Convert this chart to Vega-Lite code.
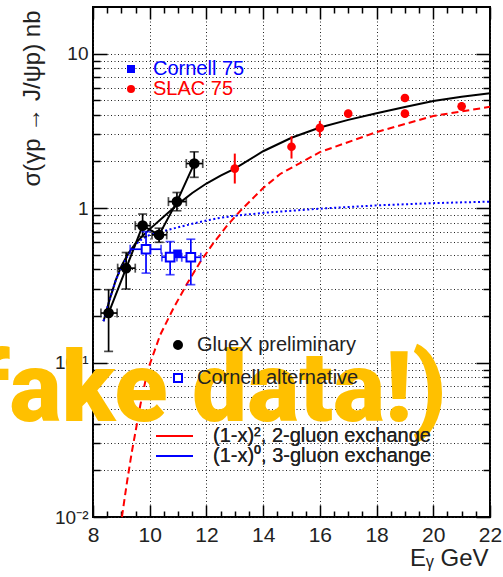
{
  "$schema": "https://vega.github.io/schema/vega-lite/v6.json",
  "width": 397,
  "height": 510,
  "autosize": {"type": "none"},
  "padding": {"left": 93, "top": 7, "right": 13, "bottom": 60},
  "background": "#ffffff",
  "config": {
    "view": {"stroke": "#000000", "strokeWidth": 2},
    "font": "Liberation Sans",
    "axis": {
      "tickColor": "#000000", "tickWidth": 1.5,
      "gridColor": "#222222", "gridDash": [1, 2.5], "gridWidth": 1,
      "labelFont": "Liberation Sans", "titleFont": "Liberation Sans",
      "labelColor": "#222222", "titleColor": "#222222", "titleFontWeight": "normal"
    },
    "legend": {"labelFont": "Liberation Sans", "labelFontSize": 20, "labelColor": "#222222", "labelLimit": 0, "padding": 0}
  },
  "datasets": {
    "fit": [
      {"E": 8.37, "sigma": 0.185}, {"E": 8.6, "sigma": 0.26}, {"E": 8.8, "sigma": 0.34},
      {"E": 9.0, "sigma": 0.42}, {"E": 9.25, "sigma": 0.51}, {"E": 9.5, "sigma": 0.59},
      {"E": 9.75, "sigma": 0.66}, {"E": 10.0, "sigma": 0.73}, {"E": 10.5, "sigma": 0.88},
      {"E": 11.0, "sigma": 1.06}, {"E": 11.5, "sigma": 1.25}, {"E": 12.0, "sigma": 1.44},
      {"E": 12.5, "sigma": 1.62}, {"E": 13.0, "sigma": 1.8}, {"E": 14.0, "sigma": 2.33},
      {"E": 15.0, "sigma": 2.85}, {"E": 16.0, "sigma": 3.32}, {"E": 17.0, "sigma": 3.72},
      {"E": 18.0, "sigma": 4.1}, {"E": 19.0, "sigma": 4.5}, {"E": 20.0, "sigma": 4.92},
      {"E": 21.0, "sigma": 5.25}, {"E": 22.0, "sigma": 5.54}
    ],
    "models": [
      {"model": "(1-x)², 2-gluon exchange", "E": 9.02, "sigma": 0.01},
      {"model": "(1-x)², 2-gluon exchange", "E": 9.2, "sigma": 0.0169},
      {"model": "(1-x)², 2-gluon exchange", "E": 9.37, "sigma": 0.0264},
      {"model": "(1-x)², 2-gluon exchange", "E": 9.67, "sigma": 0.0531},
      {"model": "(1-x)², 2-gluon exchange", "E": 9.93, "sigma": 0.0894},
      {"model": "(1-x)², 2-gluon exchange", "E": 10.37, "sigma": 0.151},
      {"model": "(1-x)², 2-gluon exchange", "E": 10.84, "sigma": 0.225},
      {"model": "(1-x)², 2-gluon exchange", "E": 11.31, "sigma": 0.322},
      {"model": "(1-x)², 2-gluon exchange", "E": 11.78, "sigma": 0.447},
      {"model": "(1-x)², 2-gluon exchange", "E": 12.25, "sigma": 0.594},
      {"model": "(1-x)², 2-gluon exchange", "E": 12.72, "sigma": 0.765},
      {"model": "(1-x)², 2-gluon exchange", "E": 13.19, "sigma": 0.956},
      {"model": "(1-x)², 2-gluon exchange", "E": 14.0, "sigma": 1.347},
      {"model": "(1-x)², 2-gluon exchange", "E": 14.6, "sigma": 1.66},
      {"model": "(1-x)², 2-gluon exchange", "E": 16.0, "sigma": 2.3},
      {"model": "(1-x)², 2-gluon exchange", "E": 18.0, "sigma": 3.1},
      {"model": "(1-x)², 2-gluon exchange", "E": 20.0, "sigma": 3.94},
      {"model": "(1-x)², 2-gluon exchange", "E": 22.0, "sigma": 4.52},
      {"model": "(1-x)⁰, 3-gluon exchange", "E": 8.37, "sigma": 0.185},
      {"model": "(1-x)⁰, 3-gluon exchange", "E": 8.6, "sigma": 0.26},
      {"model": "(1-x)⁰, 3-gluon exchange", "E": 8.8, "sigma": 0.34},
      {"model": "(1-x)⁰, 3-gluon exchange", "E": 9.0, "sigma": 0.41},
      {"model": "(1-x)⁰, 3-gluon exchange", "E": 9.25, "sigma": 0.5},
      {"model": "(1-x)⁰, 3-gluon exchange", "E": 9.5, "sigma": 0.58},
      {"model": "(1-x)⁰, 3-gluon exchange", "E": 9.75, "sigma": 0.635},
      {"model": "(1-x)⁰, 3-gluon exchange", "E": 10.0, "sigma": 0.67},
      {"model": "(1-x)⁰, 3-gluon exchange", "E": 10.5, "sigma": 0.71},
      {"model": "(1-x)⁰, 3-gluon exchange", "E": 11.0, "sigma": 0.75},
      {"model": "(1-x)⁰, 3-gluon exchange", "E": 11.5, "sigma": 0.79},
      {"model": "(1-x)⁰, 3-gluon exchange", "E": 12.0, "sigma": 0.83},
      {"model": "(1-x)⁰, 3-gluon exchange", "E": 12.5, "sigma": 0.865},
      {"model": "(1-x)⁰, 3-gluon exchange", "E": 13.0, "sigma": 0.89},
      {"model": "(1-x)⁰, 3-gluon exchange", "E": 14.0, "sigma": 0.93},
      {"model": "(1-x)⁰, 3-gluon exchange", "E": 15.0, "sigma": 0.96},
      {"model": "(1-x)⁰, 3-gluon exchange", "E": 16.0, "sigma": 0.99},
      {"model": "(1-x)⁰, 3-gluon exchange", "E": 18.0, "sigma": 1.04},
      {"model": "(1-x)⁰, 3-gluon exchange", "E": 20.0, "sigma": 1.075},
      {"model": "(1-x)⁰, 3-gluon exchange", "E": 22.0, "sigma": 1.1}
    ],
    "measured": [
      {"set": "GlueX preliminary", "E": 8.55, "sigma": 0.209, "Elo": 8.28, "Ehi": 8.85, "slo": 0.118, "shi": 0.296},
      {"set": "GlueX preliminary", "E": 9.17, "sigma": 0.408, "Elo": 8.87, "Ehi": 9.49, "slo": 0.299, "shi": 0.515},
      {"set": "GlueX preliminary", "E": 9.75, "sigma": 0.769, "Elo": 9.49, "Ehi": 10.02, "slo": 0.653, "shi": 0.914},
      {"set": "GlueX preliminary", "E": 10.33, "sigma": 0.67, "Elo": 10.08, "Ehi": 10.6, "slo": 0.6, "shi": 0.74},
      {"set": "GlueX preliminary", "E": 10.96, "sigma": 1.1, "Elo": 10.66, "Ehi": 11.29, "slo": 0.96, "shi": 1.26},
      {"set": "GlueX preliminary", "E": 11.57, "sigma": 1.94, "Elo": 11.29, "Ehi": 11.87, "slo": 1.58, "shi": 2.31},
      {"set": "Cornell alternative", "E": 9.87, "sigma": 0.541, "Elo": 9.31, "Ehi": 10.4, "slo": 0.379, "shi": 0.703},
      {"set": "Cornell alternative", "E": 10.72, "sigma": 0.481, "Elo": 10.43, "Ehi": 10.96, "slo": 0.37, "shi": 0.606},
      {"set": "Cornell alternative", "E": 11.45, "sigma": 0.48, "Elo": 11.13, "Ehi": 11.8, "slo": 0.319, "shi": 0.628}
    ],
    "published": [
      {"set": "Cornell 75", "E": 10.98, "sigma": 0.505, "slo": null, "shi": null},
      {"set": "SLAC 75", "E": 13.0, "sigma": 1.8, "slo": 1.44, "shi": 2.25},
      {"set": "SLAC 75", "E": 15.0, "sigma": 2.49, "slo": 2.09, "shi": 2.91},
      {"set": "SLAC 75", "E": 16.0, "sigma": 3.3, "slo": 2.89, "shi": 3.66},
      {"set": "SLAC 75", "E": 17.0, "sigma": 4.08, "slo": 3.85, "shi": 4.32},
      {"set": "SLAC 75", "E": 19.0, "sigma": 5.15, "slo": 4.85, "shi": 5.45},
      {"set": "SLAC 75", "E": 19.0, "sigma": 4.08, "slo": 3.85, "shi": 4.32},
      {"set": "SLAC 75", "E": 21.0, "sigma": 4.55, "slo": 4.25, "shi": 4.85}
    ],
    "stamp": [{"note": "(fake data!)"}]
  },
  "resolve": {
    "scale": {"color": "independent", "shape": "independent"},
    "axis": {"x": "independent", "y": "independent"}
  },
  "layer": [
    {
      "data": {"name": "fit"},
      "mark": {"type": "line", "color": "#000000", "strokeWidth": 2},
      "encoding": {
        "x": {
          "field": "E", "type": "quantitative",
          "scale": {"domain": [8, 22], "nice": false, "zero": false},
          "axis": {
            "orient": "bottom", "values": [8, 10, 12, 14, 16, 18, 20, 22],
            "ticks": false, "domain": false, "grid": true,
            "labelFontSize": 21, "labelPadding": 7, "labelFlush": false, "labelOverlap": false,
            "title": "Eᵧ GeV", "titleFontSize": 24, "titleAnchor": "end", "titleAlign": "right",
            "titleBaseline": "alphabetic", "titleX": 395, "titleY": 48
          }
        },
        "y": {
          "field": "sigma", "type": "quantitative",
          "scale": {"type": "log", "domain": [0.01, 20], "nice": false},
          "axis": {
            "orient": "left",
            "values": [0.01, 0.02, 0.03, 0.04, 0.05, 0.06, 0.07, 0.08, 0.09, 0.1, 0.2, 0.3, 0.4, 0.5, 0.6, 0.7, 0.8, 0.9, 1, 2, 3, 4, 5, 6, 7, 8, 9, 10],
            "ticks": false, "domain": false, "grid": true,
            "labelExpr": "datum.value === 10 ? '10\u2002' : datum.value === 1 ? '1\u2002' : datum.value === 0.1 ? '10\u207b\u00b9' : datum.value === 0.01 ? '10\u207b\u00b2' : ''",
            "labelFontSize": 19, "labelPadding": 5, "labelFlush": false, "labelOverlap": false,
            "title": "σ(γp → J/ψp) nb", "titleFontSize": 24, "titleAngle": 270,
            "titleAnchor": "end", "titleAlign": "right", "titleBaseline": "middle",
            "titleX": -61, "titleY": 3
          }
        }
      }
    },
    {
      "data": {"name": "models"},
      "mark": {"type": "line", "strokeWidth": 2},
      "encoding": {
        "x": {
          "field": "E", "type": "quantitative",
          "scale": {"domain": [8, 22], "nice": false, "zero": false},
          "axis": {"orient": "top", "values": [8, 10, 12, 14, 16, 18, 20, 22], "labels": false, "domain": false, "grid": false, "tickSize": -12, "title": null}
        },
        "y": {
          "field": "sigma", "type": "quantitative",
          "scale": {"type": "log", "domain": [0.01, 20], "nice": false},
          "axis": {"orient": "right", "values": [0.01, 0.1, 1, 10], "labels": false, "domain": false, "grid": false, "tickSize": -14, "title": null}
        },
        "color": {
          "field": "model", "type": "nominal",
          "scale": {"domain": ["(1-x)², 2-gluon exchange", "(1-x)⁰, 3-gluon exchange"], "range": ["#ff0000", "#0000ff"]},
          "legend": {"orient": "none", "legendX": 62, "legendY": 419, "title": null, "symbolType": "stroke", "symbolSize": 1369, "symbolStrokeWidth": 2, "rowPadding": 0, "clipHeight": 20, "labelOffset": 19}
        },
        "strokeDash": {
          "field": "model", "type": "nominal",
          "scale": {"domain": ["(1-x)², 2-gluon exchange", "(1-x)⁰, 3-gluon exchange"], "range": [[7, 4], [2, 2.5]]},
          "legend": {"orient": "none", "legendX": 62, "legendY": 419, "title": null, "symbolType": "stroke", "symbolSize": 1369, "symbolStrokeWidth": 2, "rowPadding": 0, "clipHeight": 20, "labelOffset": 19}
        }
      }
    },
    {
      "data": {"name": "measured"},
      "transform": [{"filter": "datum.set === 'GlueX preliminary'"}],
      "mark": {"type": "line", "color": "#000000", "strokeWidth": 2},
      "encoding": {
        "x": {
          "field": "E", "type": "quantitative",
          "scale": {"domain": [8, 22], "nice": false, "zero": false},
          "axis": {"orient": "top", "values": [8.5, 9, 9.5, 10.5, 11, 11.5, 12.5, 13, 13.5, 14.5, 15, 15.5, 16.5, 17, 17.5, 18.5, 19, 19.5, 20.5, 21, 21.5], "labels": false, "domain": false, "grid": false, "tickSize": -6, "title": null}
        },
        "y": {
          "field": "sigma", "type": "quantitative",
          "scale": {"type": "log", "domain": [0.01, 20], "nice": false},
          "axis": {"orient": "right", "values": [0.02, 0.03, 0.04, 0.05, 0.06, 0.07, 0.08, 0.09, 0.2, 0.3, 0.4, 0.5, 0.6, 0.7, 0.8, 0.9, 2, 3, 4, 5, 6, 7, 8, 9], "labels": false, "domain": false, "grid": false, "tickSize": -7, "title": null}
        }
      }
    },
    {
      "data": {"name": "measured"},
      "mark": {"type": "rule", "strokeWidth": 1.7},
      "encoding": {
        "x": {
          "field": "E", "type": "quantitative",
          "scale": {"domain": [8, 22], "nice": false, "zero": false},
          "axis": {"orient": "bottom", "values": [8, 10, 12, 14, 16, 18, 20, 22], "labels": false, "domain": false, "grid": false, "tickSize": -12, "title": null}
        },
        "y": {
          "field": "slo", "type": "quantitative",
          "scale": {"type": "log", "domain": [0.01, 20], "nice": false},
          "axis": {"orient": "left", "values": [0.01, 0.1, 1, 10], "labels": false, "domain": false, "grid": false, "tickSize": -14, "title": null}
        },
        "y2": {"field": "shi"},
        "color": {"condition": {"test": "datum.set === 'GlueX preliminary'", "value": "#000000"}, "value": "#0000ff"}
      }
    },
    {
      "data": {"name": "measured"},
      "mark": {"type": "rule", "strokeWidth": 1.7},
      "encoding": {
        "x": {
          "field": "Elo", "type": "quantitative",
          "scale": {"domain": [8, 22], "nice": false, "zero": false},
          "axis": {"orient": "bottom", "values": [8.5, 9, 9.5, 10.5, 11, 11.5, 12.5, 13, 13.5, 14.5, 15, 15.5, 16.5, 17, 17.5, 18.5, 19, 19.5, 20.5, 21, 21.5], "labels": false, "domain": false, "grid": false, "tickSize": -6, "title": null}
        },
        "x2": {"field": "Ehi"},
        "y": {
          "field": "sigma", "type": "quantitative",
          "scale": {"type": "log", "domain": [0.01, 20], "nice": false},
          "axis": {"orient": "left", "values": [0.02, 0.03, 0.04, 0.05, 0.06, 0.07, 0.08, 0.09, 0.2, 0.3, 0.4, 0.5, 0.6, 0.7, 0.8, 0.9, 2, 3, 4, 5, 6, 7, 8, 9], "labels": false, "domain": false, "grid": false, "tickSize": -7, "title": null}
        },
        "color": {"condition": {"test": "datum.set === 'GlueX preliminary'", "value": "#000000"}, "value": "#0000ff"}
      }
    },
    {
      "data": {"name": "measured"},
      "transform": [{"fold": ["slo", "shi"], "as": ["end", "bound"]}],
      "mark": {"type": "tick", "orient": "horizontal", "size": 9, "thickness": 1.7},
      "encoding": {
        "x": {"field": "E", "type": "quantitative", "scale": {"domain": [8, 22], "nice": false, "zero": false}, "axis": null},
        "y": {"field": "bound", "type": "quantitative", "scale": {"type": "log", "domain": [0.01, 20], "nice": false}, "axis": null},
        "color": {"condition": {"test": "datum.set === 'GlueX preliminary'", "value": "#000000"}, "value": "#0000ff"}
      }
    },
    {
      "data": {"name": "measured"},
      "transform": [{"fold": ["Elo", "Ehi"], "as": ["end", "bound"]}],
      "mark": {"type": "tick", "orient": "vertical", "size": 9, "thickness": 1.7},
      "encoding": {
        "x": {"field": "bound", "type": "quantitative", "scale": {"domain": [8, 22], "nice": false, "zero": false}, "axis": null},
        "y": {"field": "sigma", "type": "quantitative", "scale": {"type": "log", "domain": [0.01, 20], "nice": false}, "axis": null},
        "color": {"condition": {"test": "datum.set === 'GlueX preliminary'", "value": "#000000"}, "value": "#0000ff"}
      }
    },
    {
      "data": {"name": "published"},
      "transform": [{"filter": "isValid(datum.slo)"}],
      "mark": {"type": "rule", "color": "#ff0000", "strokeWidth": 2},
      "encoding": {
        "x": {"field": "E", "type": "quantitative", "scale": {"domain": [8, 22], "nice": false, "zero": false}, "axis": null},
        "y": {"field": "slo", "type": "quantitative", "scale": {"type": "log", "domain": [0.01, 20], "nice": false}, "axis": null},
        "y2": {"field": "shi"}
      }
    },
    {
      "data": {"name": "published"},
      "mark": {"type": "point", "filled": true, "size": 75, "opacity": 1},
      "encoding": {
        "x": {"field": "E", "type": "quantitative", "scale": {"domain": [8, 22], "nice": false, "zero": false}, "axis": null},
        "y": {"field": "sigma", "type": "quantitative", "scale": {"type": "log", "domain": [0.01, 20], "nice": false}, "axis": null},
        "color": {
          "field": "set", "type": "nominal",
          "scale": {"domain": ["Cornell 75", "SLAC 75"], "range": ["#0000ff", "#ff0000"]},
          "legend": {
            "orient": "none", "legendX": 28, "legendY": 52, "title": null, "symbolSize": 64, "symbolStrokeWidth": 0, "rowPadding": 0, "labelOffset": 12,
            "labelColor": {"expr": "datum.label === 'SLAC 75' ? '#ff0000' : '#0000ff'"}
          }
        },
        "shape": {
          "field": "set", "type": "nominal",
          "scale": {"domain": ["Cornell 75", "SLAC 75"], "range": ["square", "circle"]},
          "legend": {
            "orient": "none", "legendX": 28, "legendY": 52, "title": null, "symbolSize": 64, "symbolStrokeWidth": 0, "rowPadding": 0, "labelOffset": 12,
            "labelColor": {"expr": "datum.label === 'SLAC 75' ? '#ff0000' : '#0000ff'"}
          }
        }
      }
    },
    {
      "data": {"name": "measured"},
      "mark": {"type": "point", "size": 75, "strokeWidth": 2, "opacity": 1},
      "encoding": {
        "x": {"field": "E", "type": "quantitative", "scale": {"domain": [8, 22], "nice": false, "zero": false}, "axis": null},
        "y": {"field": "sigma", "type": "quantitative", "scale": {"type": "log", "domain": [0.01, 20], "nice": false}, "axis": null},
        "fill": {
          "field": "set", "type": "nominal",
          "scale": {"domain": ["GlueX preliminary", "Cornell alternative"], "range": ["#000000", "#ffffff"]},
          "legend": null
        },
        "stroke": {
          "field": "set", "type": "nominal",
          "scale": {"domain": ["GlueX preliminary", "Cornell alternative"], "range": ["#000000", "#0000ff"]},
          "legend": null
        },
        "shape": {
          "field": "set", "type": "nominal",
          "scale": {"domain": ["GlueX preliminary", "Cornell alternative"], "range": ["circle", "square"]},
          "legend": {
            "orient": "none", "legendX": 75, "legendY": 328, "title": null, "symbolSize": 64, "symbolStrokeWidth": 2, "rowPadding": 13, "labelOffset": 9,
            "symbolFillColor": {"expr": "datum.label === 'GlueX preliminary' ? '#000000' : '#ffffff'"},
            "symbolStrokeColor": {"expr": "datum.label === 'GlueX preliminary' ? '#000000' : '#0000ff'"}
          }
        }
      }
    },
    {
      "data": {"name": "stamp"},
      "mark": {"type": "text", "font": "Roboto", "fontWeight": 900, "fontSize": 98, "color": "#ffc000", "align": "right", "baseline": "alphabetic"},
      "encoding": {
        "text": {"field": "note"},
        "x": {"datum": 20.47, "type": "quantitative", "scale": {"domain": [8, 22], "nice": false, "zero": false}, "axis": null},
        "y": {"datum": 0.0418, "type": "quantitative", "scale": {"type": "log", "domain": [0.01, 20], "nice": false}, "axis": null}
      }
    }
  ]
}
